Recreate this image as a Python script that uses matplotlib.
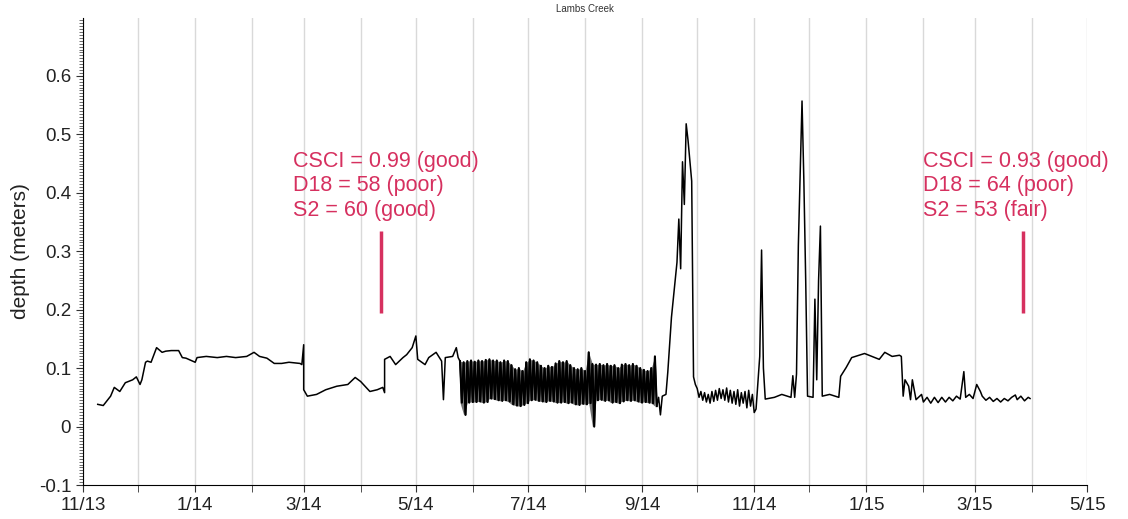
import numpy as np
import pandas as pd
import matplotlib
matplotlib.use('Agg')
import matplotlib.pyplot as plt
import matplotlib.dates as mdates
from matplotlib.ticker import MultipleLocator, FuncFormatter

plt.rcParams['font.family'] = ['Liberation Sans', 'DejaVu Sans']

# depth record, before the noisy summer stretch
dates_a = ['2013-11-09', '2013-11-12', '2013-11-16', '2013-11-18', '2013-11-21', '2013-11-24',
           '2013-11-28', '2013-11-30', '2013-12-02', '2013-12-03', '2013-12-05', '2013-12-06',
           '2013-12-08', '2013-12-10', '2013-12-11', '2013-12-14', '2013-12-16', '2013-12-19',
           '2013-12-23', '2013-12-25', '2013-12-27', '2014-01-01', '2014-01-02', '2014-01-07',
           '2014-01-13', '2014-01-18', '2014-01-23', '2014-01-29', '2014-02-02', '2014-02-05',
           '2014-02-09', '2014-02-13', '2014-02-17', '2014-02-21', '2014-02-27', '2014-02-28',
           '2014-03-01', '2014-03-01', '2014-03-03', '2014-03-08', '2014-03-13', '2014-03-19',
           '2014-03-25', '2014-03-29', '2014-04-01', '2014-04-06', '2014-04-10', '2014-04-13',
           '2014-04-14', '2014-04-14', '2014-04-17', '2014-04-20', '2014-04-24', '2014-04-26',
           '2014-04-29', '2014-05-01', '2014-05-02', '2014-05-06', '2014-05-08', '2014-05-12',
           '2014-05-15', '2014-05-16', '2014-05-17', '2014-05-21', '2014-05-23', '2014-05-24']
depth_a = [0.038, 0.036, 0.052, 0.067, 0.060, 0.075,
           0.080, 0.085, 0.072, 0.080, 0.110, 0.112,
           0.110, 0.127, 0.135, 0.127, 0.129, 0.130,
           0.130, 0.118, 0.117, 0.110, 0.118, 0.120,
           0.118, 0.120, 0.118, 0.120, 0.127, 0.120,
           0.117, 0.108, 0.108, 0.110, 0.108, 0.106,
           0.140, 0.063, 0.052, 0.055, 0.063, 0.069,
           0.072, 0.084, 0.077, 0.060, 0.063, 0.067,
           0.058, 0.115, 0.120, 0.106, 0.118, 0.123,
           0.135, 0.155, 0.115, 0.106, 0.118, 0.127,
           0.112, 0.046, 0.118, 0.120, 0.135, 0.118]

# summer stretch: every 2 days the trace swings between a high and a low
summer_start = '2014-05-25'
summer_hi = [0.112, 0.110, 0.112, 0.113,
             0.111, 0.113, 0.112, 0.114, 0.115, 0.113, 0.113, 0.110, 0.113, 0.112,
             0.105, 0.098, 0.100, 0.095, 0.110,
             0.115, 0.113, 0.110, 0.104, 0.100, 0.104, 0.102, 0.108, 0.112, 0.110,
             0.112, 0.105, 0.100, 0.098, 0.100,
             0.095, 0.127, 0.107, 0.106, 0.107, 0.105, 0.107, 0.104, 0.105, 0.100,
             0.106, 0.107, 0.105, 0.107, 0.104, 0.100,
             0.097, 0.095, 0.100, 0.120]
summer_lo = [0.041, 0.020, 0.041, 0.042,
             0.042, 0.043, 0.041, 0.042, 0.048, 0.047, 0.045, 0.044, 0.045, 0.043,
             0.038, 0.036, 0.035, 0.037, 0.040,
             0.045, 0.046, 0.044, 0.043, 0.042, 0.044, 0.043, 0.041, 0.041, 0.042,
             0.040, 0.041, 0.038, 0.037, 0.039,
             0.038, 0.040, 0.000, 0.045, 0.046, 0.044, 0.045, 0.041, 0.042, 0.040,
             0.043, 0.045, 0.044, 0.045, 0.043, 0.041,
             0.042, 0.041, 0.040, 0.035]

# september storm
dates_b = ['2014-09-10', '2014-09-11', '2014-09-12', '2014-09-14', '2014-09-15', '2014-09-17',
           '2014-09-20', '2014-09-21', '2014-09-22', '2014-09-23', '2014-09-24', '2014-09-25',
           '2014-09-26', '2014-09-28', '2014-09-29', '2014-09-30']
depth_b = [0.050, 0.020, 0.052, 0.055, 0.093, 0.187,
           0.281, 0.355, 0.270, 0.453, 0.380, 0.518,
           0.490, 0.420, 0.085, 0.072]

# october: noisy low water, high/low every 2 days
oct_start = '2014-10-01'
oct_hi = [0.065, 0.060, 0.058, 0.055, 0.060, 0.062, 0.065, 0.063,
          0.066, 0.062, 0.060, 0.063, 0.058, 0.060, 0.062, 0.055]
oct_lo = [0.050, 0.045, 0.042, 0.040, 0.043, 0.045, 0.048, 0.045,
          0.042, 0.040, 0.038, 0.035, 0.040, 0.032, 0.035, 0.025]

# november to the end of record
dates_c = ['2014-11-01', '2014-11-02', '2014-11-04', '2014-11-05', '2014-11-06', '2014-11-07',
           '2014-11-12', '2014-11-16', '2014-11-21', '2014-11-22', '2014-11-23', '2014-11-24',
           '2014-11-25', '2014-11-27', '2014-11-28', '2014-11-29', '2014-11-30', '2014-12-03',
           '2014-12-04', '2014-12-05', '2014-12-06', '2014-12-07', '2014-12-08', '2014-12-12',
           '2014-12-17', '2014-12-18', '2014-12-21', '2014-12-24', '2014-12-26', '2014-12-31',
           '2015-01-04', '2015-01-08', '2015-01-11', '2015-01-15', '2015-01-19', '2015-01-20',
           '2015-01-21', '2015-01-22', '2015-01-24', '2015-01-25', '2015-01-26', '2015-01-28',
           '2015-01-31', '2015-02-01', '2015-02-03', '2015-02-05', '2015-02-07', '2015-02-09',
           '2015-02-11', '2015-02-13', '2015-02-15', '2015-02-17', '2015-02-19', '2015-02-21',
           '2015-02-23', '2015-02-24', '2015-02-26', '2015-02-28', '2015-03-02', '2015-03-04',
           '2015-03-05', '2015-03-07', '2015-03-09', '2015-03-11', '2015-03-13', '2015-03-15',
           '2015-03-17', '2015-03-19', '2015-03-21', '2015-03-23', '2015-03-24', '2015-03-26',
           '2015-03-28', '2015-03-30', '2015-03-31']
depth_c = [0.024, 0.030, 0.120, 0.302, 0.100, 0.047,
           0.050, 0.055, 0.050, 0.087, 0.050, 0.090,
           0.310, 0.557, 0.420, 0.250, 0.052, 0.050,
           0.218, 0.080, 0.250, 0.343, 0.052, 0.055,
           0.050, 0.086, 0.101, 0.118, 0.120, 0.125,
           0.120, 0.115, 0.127, 0.120, 0.122, 0.120,
           0.052, 0.080, 0.069, 0.046, 0.080, 0.046,
           0.055, 0.042, 0.050, 0.040, 0.050, 0.041,
           0.050, 0.042, 0.050, 0.044, 0.052, 0.047,
           0.094, 0.050, 0.055, 0.048, 0.072, 0.060,
           0.052, 0.045, 0.050, 0.043, 0.048, 0.042,
           0.048, 0.044, 0.050, 0.054, 0.046, 0.052,
           0.044, 0.050, 0.048]

# sampling visits
visit_dates = ['2014-04-12', '2015-03-27']
visit_text = ['CSCI = 0.99 (good)\nD18 = 58 (poor)\nS2 = 60 (good)',
              'CSCI = 0.93 (good)\nD18 = 64 (poor)\nS2 = 53 (fair)']
text_dates = ['2014-02-23', '2015-02-01']

red = '#d6305f'


def swing(start, hi, lo):
    # one high and one low reading per 2-day step
    days = pd.date_range(start, periods=len(hi), freq='2D')
    sx, sy = [], []
    for d, h, l in zip(days, hi, lo):
        sx += [d, d + pd.Timedelta(hours=24)]
        sy += [h, l]
    return sx, sy


sum_x, sum_y = swing(summer_start, summer_hi, summer_lo)
oct_x, oct_y = swing(oct_start, oct_hi, oct_lo)

xx = (list(pd.to_datetime(dates_a)) + sum_x + list(pd.to_datetime(dates_b))
      + oct_x + list(pd.to_datetime(dates_c)))
yy = depth_a + sum_y + depth_b + oct_y + depth_c

fig = plt.figure(figsize=(11.28, 5.19), dpi=100)
ax = fig.add_axes([0.0736, 0.0655, 0.8901, 0.8998])

# summer stretch is a near-solid smear of readings
summer_days = pd.date_range(summer_start, periods=len(summer_hi), freq='2D')
ax.fill_between(summer_days, summer_lo, summer_hi, color='black', alpha=0.55, lw=0)
ax.plot(xx, yy, color='black', lw=1.1)
ax.plot(sum_x, sum_y, color='black', lw=1.5)

for vd in visit_dates:
    ax.plot([pd.Timestamp(vd)] * 2, [0.195, 0.335], color=red, lw=2.5, solid_capstyle='butt')
for td, txt in zip(text_dates, visit_text):
    ax.text(pd.Timestamp(td), 0.472, txt, color=red, fontsize=15.5, va='top', ha='left',
            linespacing=1.22)

ax.set_xlim(pd.Timestamp('2013-11-01'), pd.Timestamp('2015-05-01'))
ax.set_ylim(-0.1, 0.699)

ax.xaxis.set_major_locator(mdates.MonthLocator(bymonth=[1, 3, 5, 7, 9, 11]))
ax.xaxis.set_minor_locator(mdates.MonthLocator(bymonth=[2, 4, 6, 8, 10, 12]))
ax.xaxis.set_major_formatter(FuncFormatter(
    lambda v, p: '%d/%s' % (mdates.num2date(v).month, mdates.num2date(v).strftime('%y'))))
ax.yaxis.set_major_locator(MultipleLocator(0.1))
ax.yaxis.set_minor_locator(MultipleLocator(0.005))
ax.yaxis.set_major_formatter(FuncFormatter(lambda v, p: '%g' % round(v, 2)))

ax.grid(True, axis='x', which='both', color='#d9d9d9', lw=1)
ax.set_axisbelow(True)
ax.spines['top'].set_visible(False)
ax.spines['right'].set_visible(False)
ax.tick_params(axis='both', which='major', labelsize=13.5, length=5, color='#333333',
               labelcolor='#222222')
ax.tick_params(axis='x', which='minor', length=5, color='#333333')
ax.tick_params(axis='y', which='minor', length=3, color='#555555', width=0.6)

ax.set_ylabel('depth (meters)', fontsize=15, color='#222222', labelpad=6)
ax.set_title('Lambs Creek', fontsize=7, color='#333333', pad=4)

fig.savefig('out.png', dpi=100)
